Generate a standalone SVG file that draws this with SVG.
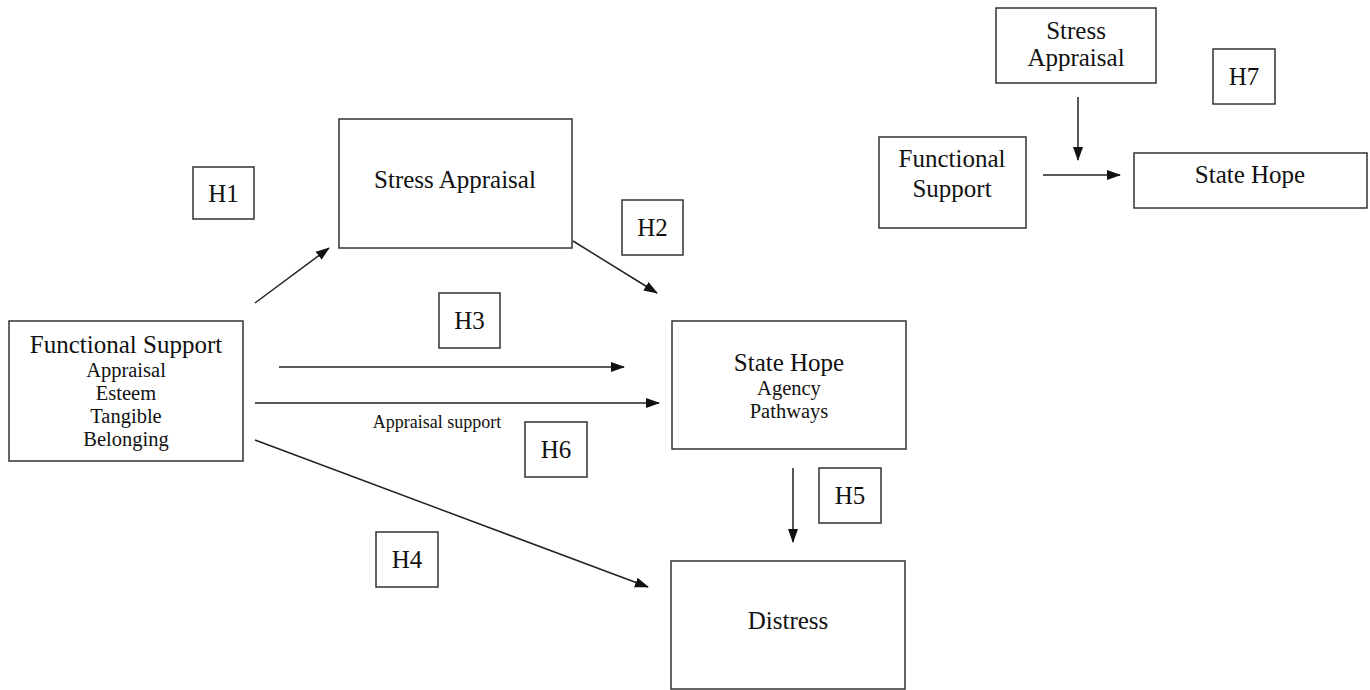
<svg xmlns="http://www.w3.org/2000/svg" width="1370" height="690" viewBox="0 0 1370 690">
<style>
.box{fill:#fff;stroke:#333;stroke-width:1.5}
.t{font-family:"Liberation Serif","Times New Roman",serif;fill:#111;text-anchor:middle}
.big{font-size:25px}
.mid{font-size:20.5px}
.sm{font-size:18px}
.c{stroke:#222;stroke-width:1.5;fill:none;marker-end:url(#ah)}
</style>
<defs>
<marker id="ah" markerWidth="14" markerHeight="12" refX="13" refY="5" orient="auto" markerUnits="userSpaceOnUse" viewBox="0 0 14 10">
<path d="M0,0 L14,5 L0,10 Z" fill="#111"/>
</marker>
</defs>
<rect width="1370" height="690" fill="#fff"/>
<g id="connectors">
<line class="c" x1="255" y1="303" x2="329" y2="248"/>
<line class="c" x1="573" y1="241" x2="657" y2="293"/>
<line class="c" x1="279" y1="367" x2="624" y2="367"/>
<line class="c" x1="255" y1="403" x2="659" y2="403"/>
<line class="c" x1="255" y1="440" x2="648" y2="587"/>
<line class="c" x1="793" y1="468" x2="793" y2="542"/>
<line class="c" x1="1078" y1="97" x2="1078" y2="160"/>
<line class="c" x1="1043" y1="175" x2="1120" y2="175"/>
<text class="t sm" x="437" y="428">Appraisal support</text>
</g>
<g id="functional-support">
<rect class="box" x="9" y="321" width="234" height="140"/>
<text class="t big" x="126" y="353">Functional Support</text>
<text class="t mid" x="126" y="377">Appraisal</text>
<text class="t mid" x="126" y="400">Esteem</text>
<text class="t mid" x="126" y="423">Tangible</text>
<text class="t mid" x="126" y="446">Belonging</text>
</g>
<g id="stress-appraisal">
<rect class="box" x="339" y="119" width="233" height="129"/>
<text class="t big" x="455" y="188">Stress Appraisal</text>
</g>
<g id="state-hope">
<rect class="box" x="672" y="321" width="234" height="128"/>
<text class="t big" x="789" y="371">State Hope</text>
<text class="t mid" x="789" y="395">Agency</text>
<text class="t mid" x="789" y="418">Pathways</text>
</g>
<g id="distress">
<rect class="box" x="671" y="561" width="234" height="128"/>
<text class="t big" x="788" y="629">Distress</text>
</g>
<g id="h1"><rect class="box" x="193" y="167" width="61" height="52"/><text class="t big" x="223.5" y="202">H1</text></g>
<g id="h2"><rect class="box" x="622" y="200" width="61" height="55"/><text class="t big" x="652.5" y="236">H2</text></g>
<g id="h3"><rect class="box" x="439" y="293" width="61" height="55"/><text class="t big" x="469.5" y="329">H3</text></g>
<g id="h4"><rect class="box" x="376" y="532" width="62" height="55"/><text class="t big" x="407" y="568">H4</text></g>
<g id="h5"><rect class="box" x="819" y="468" width="62" height="55"/><text class="t big" x="850" y="504">H5</text></g>
<g id="h6"><rect class="box" x="525" y="422" width="62" height="55"/><text class="t big" x="556" y="458">H6</text></g>
<g id="h7"><rect class="box" x="1213" y="49" width="62" height="55"/><text class="t big" x="1244" y="85">H7</text></g>
<g id="stress-appraisal-2">
<rect class="box" x="996" y="8" width="160" height="75"/>
<text class="t big" x="1076" y="39">Stress</text>
<text class="t big" x="1076" y="66">Appraisal</text>
</g>
<g id="functional-support-2">
<rect class="box" x="879" y="137" width="147" height="91"/>
<text class="t big" x="952" y="167">Functional</text>
<text class="t big" x="952" y="197">Support</text>
</g>
<g id="state-hope-2">
<rect class="box" x="1134" y="153" width="233" height="55"/>
<text class="t big" x="1250" y="183">State Hope</text>
</g>
</svg>
